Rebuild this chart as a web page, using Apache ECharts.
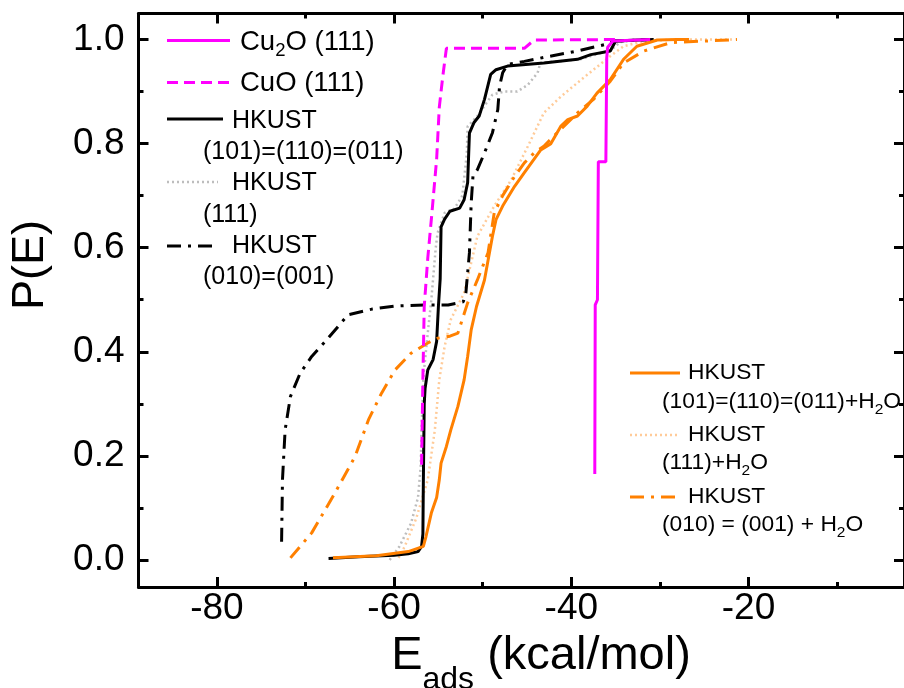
<!DOCTYPE html>
<html>
<head>
<meta charset="utf-8">
<script src="https://cdn.jsdelivr.net/npm/echarts@6/dist/echarts.min.js"></script>
<style>
  html, body { margin: 0; padding: 0; background: #fff; }
  #chart { width: 904px; height: 688px; }
</style>
</head>
<body>
<div id="chart"></div>
<script>
// Cumulative distributions P(E) of adsorption energies (kcal/mol)

// Cu2O (111)
const eCu2O = [-37.35, -37.3, -37.05, -36.95, -36.1, -36.0, -35.9, -35.3, -31.1];
const pCu2O = [0.165, 0.49, 0.50, 0.765, 0.765, 0.965, 0.985, 0.997, 1.0];

// CuO (111)
const eCuO = [-56.9, -56.75, -56.6, -56.2, -55.8, -55.2, -54.9, -54.5, -54.1, -45.3, -44.2, -34.8];
const pCuO = [0.183, 0.35, 0.487, 0.58, 0.654, 0.77, 0.87, 0.93, 0.983, 0.983, 0.999, 1.0];

// HKUST (101)=(110)=(011)
const eH101 = [-67.4, -64, -60, -58.4, -57.3, -56.9, -56.75, -56.7, -56.6, -56.5, -56.2, -55.6, -55.2, -55.0, -54.8, -54.7, -54.3, -53.7, -52.6, -52.1, -51.7, -51.5, -51.0, -50.4, -49.8, -49.1, -48.5, -47.2, -43.1, -39.3, -37.8, -35.6, -35.0, -31.1];
const pH101 = [0.003, 0.006, 0.009, 0.012, 0.016, 0.026, 0.05, 0.15, 0.30, 0.33, 0.365, 0.385, 0.42, 0.487, 0.54, 0.64, 0.655, 0.67, 0.676, 0.692, 0.725, 0.82, 0.84, 0.853, 0.885, 0.933, 0.942, 0.949, 0.955, 0.962, 0.971, 0.978, 0.997, 1.0];

// HKUST (111)
const eH111 = [-60.5, -59.4, -58.1, -57.3, -57.0, -56.9, -56.7, -56.3, -55.8, -55.3, -55.1, -54.3, -53.2, -52.3, -51.8, -51.7, -50.5, -49.5, -48.9, -47.6, -46.1, -44.9, -43.8, -43.5, -39.0, -35.5, -34.5, -32.0];
const pH111 = [0.0, 0.026, 0.07, 0.12, 0.18, 0.25, 0.35, 0.42, 0.50, 0.60, 0.628, 0.667, 0.675, 0.70, 0.78, 0.833, 0.855, 0.88, 0.894, 0.90, 0.90, 0.913, 0.936, 0.955, 0.962, 0.98, 0.995, 1.0];

// HKUST (010)=(001)
const eH010 = [-72.7, -72.6, -72.3, -71.7, -70.6, -69.3, -67.6, -65.2, -62.5, -59.9, -56.6, -53.9, -52.2, -51.9, -51.5, -51.3, -51.1, -50.6, -49.8, -48.9, -48.3, -48.1, -47.75, -47.2, -45.3, -42.4, -39.3, -36.3, -35.2, -30.7];
const pH010 = [0.035, 0.154, 0.25, 0.314, 0.359, 0.391, 0.423, 0.471, 0.482, 0.488, 0.49, 0.49, 0.496, 0.513, 0.59, 0.686, 0.737, 0.75, 0.782, 0.821, 0.865, 0.91, 0.936, 0.952, 0.958, 0.968, 0.978, 0.99, 0.997, 1.0];

// HKUST (101)=(110)=(011)+H2O
const eW101 = [-66.9, -62, -58.4, -56.7, -56.4, -55.8, -55.2, -54.9, -54.7, -54.1, -53.6, -52.8, -52.1, -51.7, -51.3, -50.7, -49.8, -48.9, -48.5, -47.75, -46.4, -45.3, -44.2, -43.45, -42.3, -41.2, -40.4, -39.3, -38.2, -37.1, -35.6, -34.1, -32.6, -30.3, -28.1, -26.7];
const pW101 = [0.004, 0.008, 0.016, 0.026, 0.045, 0.09, 0.12, 0.154, 0.186, 0.218, 0.25, 0.295, 0.346, 0.391, 0.442, 0.487, 0.538, 0.622, 0.654, 0.68, 0.718, 0.744, 0.77, 0.788, 0.80, 0.833, 0.846, 0.853, 0.872, 0.897, 0.923, 0.962, 0.987, 0.999, 1.0, 1.0];

// HKUST (111)+H2O
const eW111 = [-59.5, -58.8, -57.5, -56.2, -55.4, -54.9, -54.3, -53.6, -52.1, -50.6, -48.7, -46.8, -44.9, -43.1, -41.2, -39.3, -37.5, -35.6, -34.1, -31.8, -28.0, -21.5];
const pW111 = [0.004, 0.026, 0.08, 0.154, 0.25, 0.346, 0.41, 0.462, 0.513, 0.622, 0.68, 0.73, 0.795, 0.859, 0.89, 0.917, 0.942, 0.968, 0.987, 0.997, 1.0, 1.0];

// HKUST (010) = (001) + H2O
const eW010 = [-71.7, -69.3, -66.7, -64.4, -62.9, -61.4, -59.9, -58.1, -56.2, -55.1, -53.7, -52.8, -51.7, -50.6, -49.4, -48.7, -47.75, -46.4, -45.3, -44.2, -43.1, -42.0, -39.3, -37.5, -35.6, -34.1, -31.8, -28.8, -21.3];
const pW010 = [0.004, 0.052, 0.128, 0.199, 0.269, 0.321, 0.365, 0.397, 0.417, 0.426, 0.43, 0.436, 0.494, 0.538, 0.59, 0.667, 0.70, 0.737, 0.763, 0.782, 0.795, 0.814, 0.859, 0.885, 0.92, 0.955, 0.978, 0.994, 1.0];

// Axis ticks
const xMajorTicks = [-80, -60, -40, -20];
const xMinorTicks = [-70, -50, -30, -10];
const yMajorTicks = [0, 0.2, 0.4, 0.6, 0.8, 1.0];
const yMinorTicks = [0.1, 0.3, 0.5, 0.7, 0.9];

const X_MIN = -88.85, X_MAX = -2.45;
const Y_MIN = -0.052, Y_MAX = 1.05;

const MAGENTA = '#FF00FF';
const ORANGE = '#FF8000';
const GREY = '#BDBDBD';
const PEACH = '#FFCB99';
const FONT = '"Liberation Sans", Arial, Helvetica, sans-serif';

const pairs = (xs, ys) => xs.map((x, i) => [x, ys[i]]);

const chart = echarts.init(document.getElementById('chart'), null, { renderer: 'canvas' });

function xAxisDef(position, ticks, len, showLine, showLabel) {
  return {
    type: 'value', min: X_MIN, max: X_MAX, position: position,
    axisLine: { show: showLine, onZero: false, lineStyle: { color: '#000', width: 3 } },
    axisTick: { show: true, inside: true, length: len, customValues: ticks, lineStyle: { color: '#000', width: 3 } },
    axisLabel: showLabel ? { show: true, customValues: ticks, fontSize: 37, color: '#000', fontFamily: FONT, margin: 3 } : { show: false },
    splitLine: { show: false }
  };
}
function yAxisDef(position, ticks, len, showLine, showLabel) {
  return {
    type: 'value', min: Y_MIN, max: Y_MAX, position: position,
    axisLine: { show: showLine, onZero: false, lineStyle: { color: '#000', width: 3 } },
    axisTick: { show: true, inside: true, length: len, customValues: ticks, lineStyle: { color: '#000', width: 3 } },
    axisLabel: showLabel ? { show: true, customValues: ticks, fontSize: 37, color: '#000', fontFamily: FONT, margin: 14,
      formatter: v => v.toFixed(1) } : { show: false },
    splitLine: { show: false }
  };
}

function lineSeries(name, xs, ys, color, width, dash, z) {
  return {
    name: name, type: 'line', xAxisIndex: 0, yAxisIndex: 0,
    data: pairs(xs, ys), symbol: 'none', showSymbol: false, smooth: false,
    lineStyle: { color: color, width: width, type: dash },
    z: z, animation: false, silent: true
  };
}

const DASH_DOT = [14, 7, 3, 7];
const DASHED = [11, 6];
const DOTTED = [2, 3];

// rich text styles for subscripts
function richBlock(size, subSize, lineH) {
  return {
    m: { fontSize: size, fontFamily: FONT, fill: '#000', lineHeight: lineH, verticalAlign: 'middle' },
    s: { fontSize: subSize, fontFamily: FONT, fill: '#000', lineHeight: subSize, verticalAlign: 'bottom' }
  };
}
function label(x, y, text, size, subSize, lineH, align) {
  return {
    type: 'text', x: x, y: y, silent: true,
    style: {
      text: text, rich: richBlock(size, subSize, lineH),
      align: align || 'left', verticalAlign: 'middle'
    }
  };
}
function legendLine(x1, x2, y, color, width, dash) {
  return {
    type: 'line', silent: true,
    shape: { x1: x1, y1: y, x2: x2, y2: y },
    style: { stroke: color, lineWidth: width, lineDash: dash }
  };
}

const CU = 27.5, CUSUB = 18.5, CULH = 37;
const TOP = 25, TOPSUB = 17, TOPLH = 34;
const BOT = 22.8, BOTSUB = 15.5, BOTLH = 31;

const option = {
  backgroundColor: '#fff',
  animation: false,
  grid: { left: 138.5, top: 13.5, width: 771.5, height: 573.5, containLabel: false },
  xAxis: [
    xAxisDef('bottom', xMajorTicks, 10, true, true),
    xAxisDef('bottom', xMinorTicks, 5, false, false),
    xAxisDef('top', xMajorTicks, 10, true, false),
    xAxisDef('top', xMinorTicks, 5, false, false)
  ],
  yAxis: [
    yAxisDef('left', yMajorTicks, 10, true, true),
    yAxisDef('left', yMinorTicks, 5, false, false),
    yAxisDef('right', yMajorTicks, 10, true, false),
    yAxisDef('right', yMinorTicks, 5, false, false)
  ],
  series: [
    lineSeries('HKUST (111)', eH111, pH111, GREY, 2.5, DOTTED, 2),
    lineSeries('HKUST (111)+H2O', eW111, pW111, PEACH, 2.5, DOTTED, 2),
    lineSeries('HKUST (010)=(001)', eH010, pH010, '#000', 3, DASH_DOT, 3),
    lineSeries('HKUST (101)=(110)=(011)', eH101, pH101, '#000', 3, 'solid', 4),
    lineSeries('HKUST (010) = (001) + H2O', eW010, pW010, ORANGE, 3, DASH_DOT, 5),
    lineSeries('HKUST (101)=(110)=(011)+H2O', eW101, pW101, ORANGE, 3, 'solid', 6),
    lineSeries('CuO (111)', eCuO, pCuO, MAGENTA, 3, DASHED, 7),
    lineSeries('Cu2O (111)', eCu2O, pCu2O, MAGENTA, 3, 'solid', 8)
  ],
  graphic: [
    // axis titles
    label(541, 656, '{m|E}{s|ads}{m| (kcal/mol)}', 47, 32, 80, 'center'),
    {
      type: 'text', x: 31, y: 265, rotation: Math.PI / 2, silent: true,
      style: { text: 'P(E)', fontSize: 45, fontFamily: FONT, fill: '#000', align: 'center', verticalAlign: 'middle' }
    },
    // legend, upper left
    legendLine(167, 230, 40.5, MAGENTA, 3, null),
    label(240, 42, '{m|Cu}{s|2}{m|O (111)}', CU, CUSUB, CULH),
    legendLine(167, 230, 82.5, MAGENTA, 3, DASHED),
    label(240, 83, '{m|CuO (111)}', CU, CUSUB, CULH),
    legendLine(167, 223, 119, '#000', 3, null),
    label(232, 121, '{m|HKUST}', TOP, TOPSUB, TOPLH),
    label(203, 152, '{m|(101)=(110)=(011)}', TOP, TOPSUB, TOPLH),
    legendLine(167, 218, 182, GREY, 2.5, DOTTED),
    label(232, 183, '{m|HKUST}', TOP, TOPSUB, TOPLH),
    label(203, 215, '{m|(111)}', TOP, TOPSUB, TOPLH),
    legendLine(167, 217, 246, '#000', 3, DASH_DOT),
    label(232, 246, '{m|HKUST}', TOP, TOPSUB, TOPLH),
    label(203, 277, '{m|(010)=(001)}', TOP, TOPSUB, TOPLH),
    // legend, lower right
    legendLine(630, 680, 373, ORANGE, 3, null),
    label(688, 373, '{m|HKUST}', BOT, BOTSUB, BOTLH),
    label(662, 402, '{m|(101)=(110)=(011)+H}{s|2}{m|O}', BOT, BOTSUB, BOTLH),
    legendLine(630, 680, 435, PEACH, 2.5, DOTTED),
    label(688, 435, '{m|HKUST}', BOT, BOTSUB, BOTLH),
    label(662, 463, '{m|(111)+H}{s|2}{m|O}', BOT, BOTSUB, BOTLH),
    legendLine(630, 680, 497, ORANGE, 3, DASH_DOT),
    label(688, 497, '{m|HKUST}', BOT, BOTSUB, BOTLH),
    label(662, 525, '{m|(010) = (001) + H}{s|2}{m|O}', BOT, BOTSUB, BOTLH)
  ]
};

chart.setOption(option);
</script>
</body>
</html>
